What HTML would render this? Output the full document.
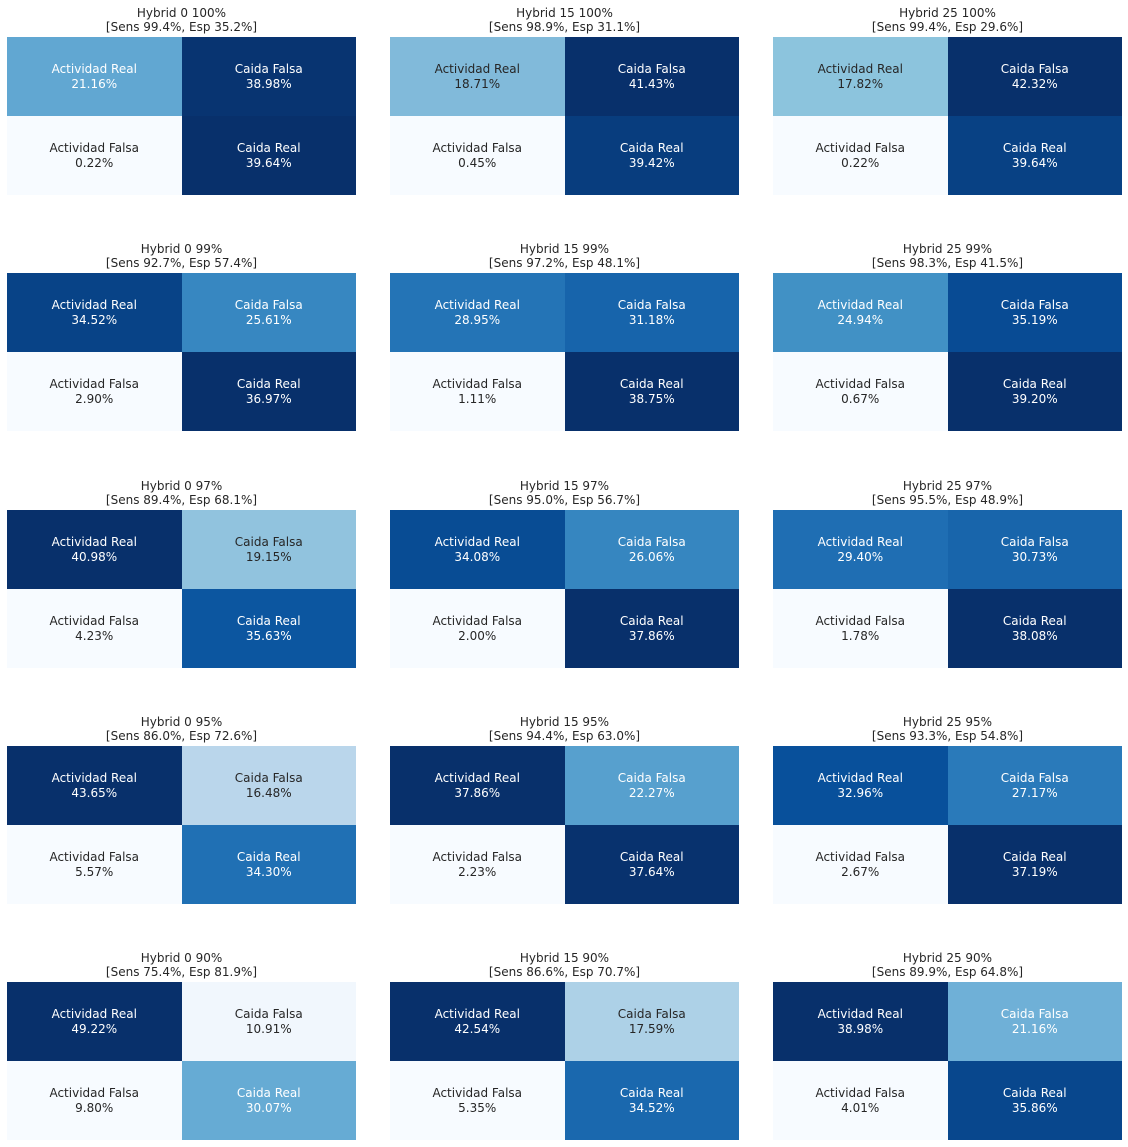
<!DOCTYPE html>
<html><head><meta charset="utf-8"><style>
body{margin:0;width:1128px;height:1147px;background:#fff;font-family:"DejaVu Sans","Liberation Sans",sans-serif;position:relative;overflow:hidden}
.p{position:absolute;width:349px}
.t{position:absolute;left:0;width:349px;top:-31px;text-align:center;font-size:12px;line-height:14px;color:#262626}
.g{display:grid;grid-template-columns:174.5px 174.5px;grid-template-rows:79px 79px;height:158px}
.g div{display:flex;align-items:center;justify-content:center;text-align:center;font-size:12px;line-height:15px;color:#fff}
.g div.k{color:#262626}
.w{background:#f7fbff}
</style></head><body>

<div class="p" style="left:7px;top:37px"><div class="t">Hybrid 0 100%<br>[Sens 99.4%, Esp 35.2%]</div><div class="g">
<div style="background:rgb(97,167,210)">Actividad Real<br>21.16%</div><div style="background:rgb(8,52,113)">Caida Falsa<br>38.98%</div>
<div class="w k">Actividad Falsa<br>0.22%</div><div style="background:#08306b">Caida Real<br>39.64%</div></div></div>

<div class="p" style="left:390px;top:37px"><div class="t">Hybrid 15 100%<br>[Sens 98.9%, Esp 31.1%]</div><div class="g">
<div class="k" style="background:rgb(129,186,218)">Actividad Real<br>18.71%</div><div style="background:#08306b">Caida Falsa<br>41.43%</div>
<div class="w k">Actividad Falsa<br>0.45%</div><div style="background:rgb(8,61,126)">Caida Real<br>39.42%</div></div></div>

<div class="p" style="left:773px;top:37px"><div class="t">Hybrid 25 100%<br>[Sens 99.4%, Esp 29.6%]</div><div class="g">
<div class="k" style="background:rgb(140,196,221)">Actividad Real<br>17.82%</div><div style="background:#08306b">Caida Falsa<br>42.32%</div>
<div class="w k">Actividad Falsa<br>0.22%</div><div style="background:rgb(8,65,132)">Caida Real<br>39.64%</div></div></div>

<div class="p" style="left:7px;top:273px"><div class="t">Hybrid 0 99%<br>[Sens 92.7%, Esp 57.4%]</div><div class="g">
<div style="background:rgb(8,67,135)">Actividad Real<br>34.52%</div><div style="background:rgb(55,135,193)">Caida Falsa<br>25.61%</div>
<div class="w k">Actividad Falsa<br>2.90%</div><div style="background:#08306b">Caida Real<br>36.97%</div></div></div>

<div class="p" style="left:390px;top:273px"><div class="t">Hybrid 15 99%<br>[Sens 97.2%, Esp 48.1%]</div><div class="g">
<div style="background:rgb(36,116,182)">Actividad Real<br>28.95%</div><div style="background:rgb(23,100,171)">Caida Falsa<br>31.18%</div>
<div class="w k">Actividad Falsa<br>1.11%</div><div style="background:#08306b">Caida Real<br>38.75%</div></div></div>

<div class="p" style="left:773px;top:273px"><div class="t">Hybrid 25 99%<br>[Sens 98.3%, Esp 41.5%]</div><div class="g">
<div style="background:rgb(65,145,197)">Actividad Real<br>24.94%</div><div style="background:rgb(8,75,148)">Caida Falsa<br>35.19%</div>
<div class="w k">Actividad Falsa<br>0.67%</div><div style="background:#08306b">Caida Real<br>39.20%</div></div></div>

<div class="p" style="left:7px;top:510px"><div class="t">Hybrid 0 97%<br>[Sens 89.4%, Esp 68.1%]</div><div class="g">
<div style="background:#08306b">Actividad Real<br>40.98%</div><div class="k" style="background:rgb(145,195,222)">Caida Falsa<br>19.15%</div>
<div class="w k">Actividad Falsa<br>4.23%</div><div style="background:rgb(12,86,160)">Caida Real<br>35.63%</div></div></div>

<div class="p" style="left:390px;top:510px"><div class="t">Hybrid 15 97%<br>[Sens 95.0%, Esp 56.7%]</div><div class="g">
<div style="background:rgb(8,76,148)">Actividad Real<br>34.08%</div><div style="background:rgb(54,134,192)">Caida Falsa<br>26.06%</div>
<div class="w k">Actividad Falsa<br>2.00%</div><div style="background:#08306b">Caida Real<br>37.86%</div></div></div>

<div class="p" style="left:773px;top:510px"><div class="t">Hybrid 25 97%<br>[Sens 95.5%, Esp 48.9%]</div><div class="g">
<div style="background:rgb(31,110,179)">Actividad Real<br>29.40%</div><div style="background:rgb(24,101,171)">Caida Falsa<br>30.73%</div>
<div class="w k">Actividad Falsa<br>1.78%</div><div style="background:#08306b">Caida Real<br>38.08%</div></div></div>

<div class="p" style="left:7px;top:746px"><div class="t">Hybrid 0 95%<br>[Sens 86.0%, Esp 72.6%]</div><div class="g">
<div style="background:#08306b">Actividad Real<br>43.65%</div><div class="k" style="background:rgb(186,214,235)">Caida Falsa<br>16.48%</div>
<div class="w k">Actividad Falsa<br>5.57%</div><div style="background:rgb(32,112,180)">Caida Real<br>34.30%</div></div></div>

<div class="p" style="left:390px;top:746px"><div class="t">Hybrid 15 95%<br>[Sens 94.4%, Esp 63.0%]</div><div class="g">
<div style="background:#08306b">Actividad Real<br>37.86%</div><div style="background:rgb(87,160,206)">Caida Falsa<br>22.27%</div>
<div class="w k">Actividad Falsa<br>2.23%</div><div style="background:rgb(8,50,110)">Caida Real<br>37.64%</div></div></div>

<div class="p" style="left:773px;top:746px"><div class="t">Hybrid 25 95%<br>[Sens 93.3%, Esp 54.8%]</div><div class="g">
<div style="background:rgb(8,80,155)">Actividad Real<br>32.96%</div><div style="background:rgb(42,122,186)">Caida Falsa<br>27.17%</div>
<div class="w k">Actividad Falsa<br>2.67%</div><div style="background:#08306b">Caida Real<br>37.19%</div></div></div>

<div class="p" style="left:7px;top:982px"><div class="t">Hybrid 0 90%<br>[Sens 75.4%, Esp 81.9%]</div><div class="g">
<div style="background:#08306b">Actividad Real<br>49.22%</div><div class="k" style="background:rgb(241,247,253)">Caida Falsa<br>10.91%</div>
<div class="w k">Actividad Falsa<br>9.80%</div><div style="background:rgb(102,171,212)">Caida Real<br>30.07%</div></div></div>

<div class="p" style="left:390px;top:982px"><div class="t">Hybrid 15 90%<br>[Sens 86.6%, Esp 70.7%]</div><div class="g">
<div style="background:#08306b">Actividad Real<br>42.54%</div><div class="k" style="background:rgb(173,209,231)">Caida Falsa<br>17.59%</div>
<div class="w k">Actividad Falsa<br>5.35%</div><div style="background:rgb(26,104,174)">Caida Real<br>34.52%</div></div></div>

<div class="p" style="left:773px;top:982px"><div class="t">Hybrid 25 90%<br>[Sens 89.9%, Esp 64.8%]</div><div class="g">
<div style="background:#08306b">Actividad Real<br>38.98%</div><div style="background:rgb(111,176,215)">Caida Falsa<br>21.16%</div>
<div class="w k">Actividad Falsa<br>4.01%</div><div style="background:rgb(8,71,141)">Caida Real<br>35.86%</div></div></div>

</body></html>
